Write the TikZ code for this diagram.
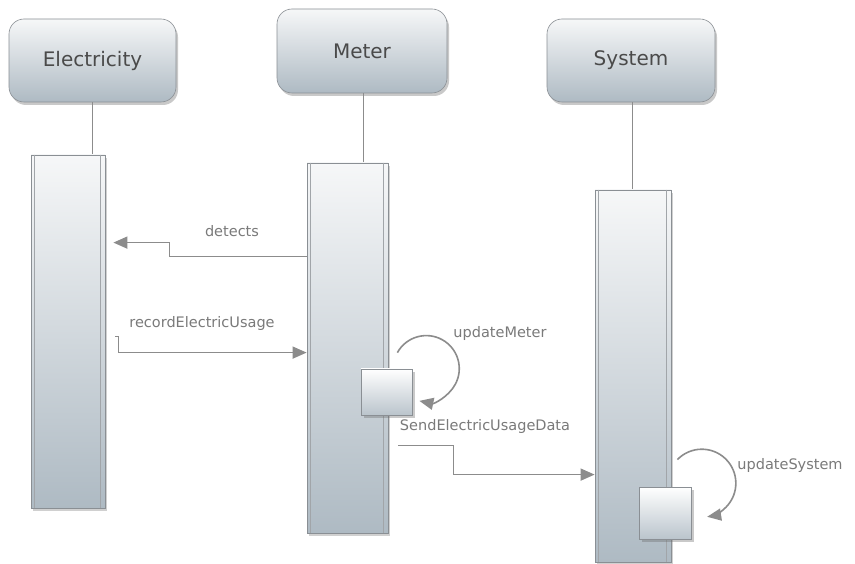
\documentclass[tikz,border=0pt]{standalone}
\usepackage{fontspec}
\setmainfont{DejaVu Sans}
\usetikzlibrary{arrows.meta,shadows,calc}
\definecolor{lineg}{HTML}{8C8C8C}
\definecolor{edgeg}{HTML}{8A8F94}
\definecolor{headtxt}{HTML}{4A4A4A}
\definecolor{labtxt}{HTML}{7A7A7A}
\definecolor{topc}{HTML}{F6F7F8}
\definecolor{botc}{HTML}{AEBAC3}
\tikzset{
  head/.style={draw=edgeg, line width=0.6pt, rounded corners=15pt, shading=axis,
    top color=topc, bottom color=botc, text=headtxt, font=\fontsize{20}{24}\selectfont,
    drop shadow={shadow xshift=2pt, shadow yshift=-3pt, opacity=0.35, fill=black!60}},
  actbar/.style={draw=edgeg, line width=0.8pt, shading=axis, top color=topc,
    bottom color=botc, inner sep=0pt,
    drop shadow={shadow xshift=2pt, shadow yshift=-3pt, opacity=0.3, fill=black!60}},
  actsq/.style={draw=edgeg, line width=0.8pt, shading=axis, top color=white,
    bottom color=botc!85, inner sep=0pt,
    drop shadow={shadow xshift=3pt, shadow yshift=-3pt, opacity=0.35, fill=black!60}},
  life/.style={draw=lineg, line width=1pt},
  inln/.style={draw=edgeg!80, line width=0.6pt},
  msg/.style={draw=lineg, line width=1.6pt, -{Triangle[length=14pt,width=12pt]}},
  lab/.style={text=labtxt, font=\fontsize{14.5}{17}\selectfont}
}
\begin{document}
\begin{tikzpicture}[x=1pt,y=-1pt]
\useasboundingbox[fill=white] (0,0) rectangle (855,564);
% headers
\node[head, minimum width=167pt, minimum height=83pt] (elec) at (92.5,60.5) {Electricity};
\node[head, minimum width=170pt, minimum height=84pt] (meter) at (362,51) {Meter};
\node[head, minimum width=168pt, minimum height=83pt] (sys) at (631,60.5) {System};
% lifelines
\coordinate (eL) at (92,155);
\coordinate (mL) at (363,163);
\coordinate (sL) at (632,190);
\draw[life] (elec.south -| eL) -- (eL);
\draw[life] (meter.south -| mL) -- (mL);
\draw[life] (sys.south -| sL) -- (sL);
% activation bars
\node[actbar, minimum width=74pt, minimum height=353pt] (ebar) at (68,331.5) {};
\node[actbar, minimum width=81pt, minimum height=370pt] (mbar) at (347.5,348) {};
\node[actbar, minimum width=76pt, minimum height=372pt] (sbar) at (633,376) {};
\foreach \b in {ebar,mbar,sbar}{
  \draw[inln] ([xshift=4pt]\b.north west) -- ([xshift=4pt]\b.south west);
  \draw[inln] ([xshift=-5pt]\b.north east) -- ([xshift=-5pt]\b.south east);
}
% small activation squares
\node[actsq, minimum width=51pt, minimum height=46pt] (msq) at (386.5,392) {};
\node[actsq, minimum width=52pt, minimum height=52pt] (ssq) at (665,513) {};
% messages
\draw[msg] ([yshift=-94pt]mbar.north west) -- ++(-137,0) -- ++(0,-14)
  -- ([xshift=8pt,yshift=-88pt]ebar.north east);
\node[lab] (ldet) at (232,231) {detects};
\draw[msg] ([xshift=10pt,yshift=-182pt]ebar.north east) -- ++(3,0) -- ++(0,16)
  -- ([yshift=-190pt]mbar.north west);
\node[lab] (lrec) at (202,324) {recordElectricUsage};
\draw[msg] ([xshift=9pt,yshift=-190pt]mbar.north east)
  arc[start angle=-151, end angle=102, radius=33];
\node[lab] (lupm) at (500,333) {updateMeter};
\draw[msg] ([xshift=10pt,yshift=-283pt]mbar.north east) -- ++(55,0) -- ++(0,29)
  -- ([yshift=-285pt]sbar.north west);
\node[lab] (lsend) at (485,426) {SendElectricUsageData};
\draw[msg] ([xshift=6pt,yshift=-270pt]sbar.north east)
  arc[start angle=-136, end angle=81, radius=34];
\node[lab] (lups) at (790,465) {updateSystem};
\end{tikzpicture}
\end{document}
